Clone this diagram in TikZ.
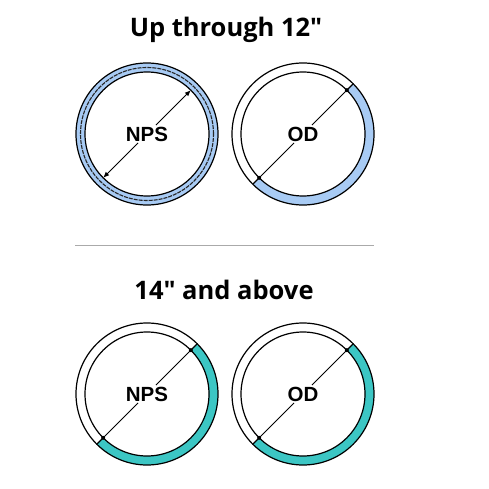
\documentclass[tikz,border=0pt]{standalone}
\usepackage{fontspec}
\setmainfont{Liberation Sans}
\newfontfamily\titlefont{Open Sans}
\usetikzlibrary{arrows.meta,calc}
\definecolor{pipeblue}{HTML}{A8CBF4}
\definecolor{pipeteal}{HTML}{3CC6C4}
\definecolor{sepgray}{HTML}{AAAAAA}
\begin{document}
\begin{tikzpicture}[x=1pt,y=1pt,
  ring/.style={draw=black,line width=1.2pt},
  lbl/.style={font=\fontsize{20.5}{22}\selectfont\bfseries,fill=white,inner sep=1.5pt},
  ttl/.style={font=\titlefont\bfseries\fontsize{25.5}{28}\selectfont},
  dot/.style={circle,fill=black,inner sep=0pt,minimum size=4pt},
  dimline/.style={line width=1pt},
  dimarrow/.style={line width=1pt,-{Latex[length=6pt,width=5pt]}}]
\useasboundingbox (0,0) rectangle (489,488);
\def\Ro{71}\def\Ri{62}
% titles
\node[ttl] (t1) at (226,458) {Up through 12"};
\node[ttl] (t2) at (224,198) {14" and above};
\coordinate (sL) at (75,243);
\coordinate (sR) at (374,243);
\draw[sepgray,line width=1pt] (sL) -- (sR);
% ---------- top left: NPS
\coordinate (c1) at (147,354);
\fill[pipeblue] (c1) circle[radius=\Ro];
\fill[white] (c1) circle[radius=\Ri];
\draw[ring] (c1) circle[radius=\Ro];
\draw[ring] (c1) circle[radius=\Ri];
\draw[line width=1.1pt,dash pattern=on 4pt off 1pt,black!85] (c1) circle[radius=66.5];
\coordinate (a1) at ($(c1)+(45:\Ri)$);
\coordinate (b1) at ($(c1)+(225:\Ri)$);
\node[lbl] (n1) at (c1) {NPS};
\draw[dimarrow] (n1) -- (a1);
\draw[dimarrow] (n1) -- (b1);
% ---------- top right: OD
\coordinate (c2) at (303,354);
\fill[pipeblue] ($(c2)+(45:\Ro)$) arc[start angle=45,end angle=-135,radius=\Ro]
   -- ($(c2)+(-135:\Ri)$) arc[start angle=-135,end angle=45,radius=\Ri] -- cycle;
\draw[ring] (c2) circle[radius=\Ro];
\draw[ring] (c2) circle[radius=\Ri];
\draw[ring] ($(c2)+(45:\Ri)$) -- ($(c2)+(45:\Ro)$);
\draw[ring] ($(c2)+(-135:\Ri)$) -- ($(c2)+(-135:\Ro)$);
\node[dot] (a2) at ($(c2)+(45:\Ri)$) {};
\node[dot] (b2) at ($(c2)+(225:\Ri)$) {};
\node[lbl] (n2) at (c2) {OD};
\draw[dimline] (n2) -- (a2.center);
\draw[dimline] (n2) -- (b2.center);
% ---------- bottom left: NPS
\coordinate (c3) at (147,94);
\fill[pipeteal] ($(c3)+(45:\Ro)$) arc[start angle=45,end angle=-135,radius=\Ro]
   -- ($(c3)+(-135:\Ri)$) arc[start angle=-135,end angle=45,radius=\Ri] -- cycle;
\draw[ring] (c3) circle[radius=\Ro];
\draw[ring] (c3) circle[radius=\Ri];
\draw[ring] ($(c3)+(45:\Ri)$) -- ($(c3)+(45:\Ro)$);
\draw[ring] ($(c3)+(-135:\Ri)$) -- ($(c3)+(-135:\Ro)$);
\node[dot] (a3) at ($(c3)+(45:\Ri)$) {};
\node[dot] (b3) at ($(c3)+(225:\Ri)$) {};
\node[lbl] (n3) at (c3) {NPS};
\draw[dimline] (n3) -- (a3.center);
\draw[dimline] (n3) -- (b3.center);
% ---------- bottom right: OD
\coordinate (c4) at (303,94);
\fill[pipeteal] ($(c4)+(45:\Ro)$) arc[start angle=45,end angle=-135,radius=\Ro]
   -- ($(c4)+(-135:\Ri)$) arc[start angle=-135,end angle=45,radius=\Ri] -- cycle;
\draw[ring] (c4) circle[radius=\Ro];
\draw[ring] (c4) circle[radius=\Ri];
\draw[ring] ($(c4)+(45:\Ri)$) -- ($(c4)+(45:\Ro)$);
\draw[ring] ($(c4)+(-135:\Ri)$) -- ($(c4)+(-135:\Ro)$);
\node[dot] (a4) at ($(c4)+(45:\Ri)$) {};
\node[dot] (b4) at ($(c4)+(225:\Ri)$) {};
\node[lbl] (n4) at (c4) {OD};
\draw[dimline] (n4) -- (a4.center);
\draw[dimline] (n4) -- (b4.center);
\end{tikzpicture}
\end{document}
